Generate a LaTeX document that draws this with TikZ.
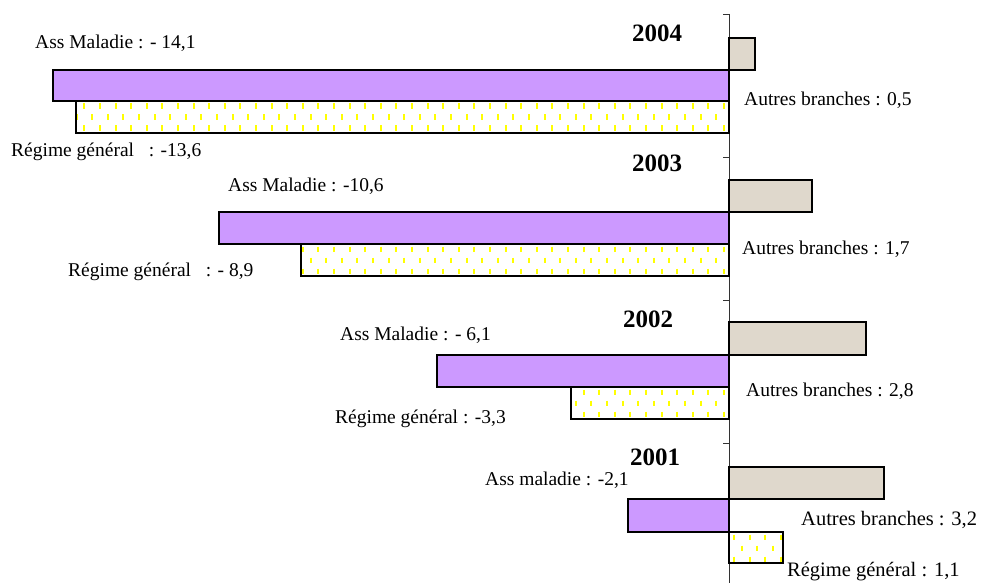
\documentclass[tikz,border=0pt]{standalone}
\usepackage{fontspec}
\setmainfont{Liberation Serif}
\definecolor{amPurple}{RGB}{204,153,255}
\definecolor{beige}{RGB}{223,216,204}
\definecolor{dashY}{RGB}{255,255,0}
\newcommand{\patbar}[4]{%
  \begin{scope}
    \clip (#1,#2) rectangle (#3,#4);
    \fill[white] (#1,#2) rectangle (#3,#4);
    \foreach \r in {0,1,2}{
      \foreach \c in {0,...,48}{
        \pgfmathsetmacro{\px}{729-5-\c*15.6-mod(\r,2)*7.8}
        \pgfmathsetmacro{\py}{#2+2.5+\r*11}
        \draw[dashY,line width=2pt] (\px,\py) -- (\px,\py+5.5);
      }
      \foreach \c in {0,...,20}{
        \pgfmathsetmacro{\px}{729+5+\c*15.6+mod(\r,2)*7.8}
        \pgfmathsetmacro{\py}{#2+2.5+\r*11}
        \draw[dashY,line width=2pt] (\px,\py) -- (\px,\py+5.5);
      }
    }
  \end{scope}
  \draw[bar] (#1,#2) rectangle (#3,#4);
}
\begin{document}
\begin{tikzpicture}[x=1pt,y=-1pt,
  bar/.style={draw=black,line width=1.4pt},
  lbl/.style={font=\fontsize{19.5}{22}\selectfont,inner sep=0pt,anchor=base west},
  lblb/.style={font=\fontsize{20.5}{24}\selectfont,inner sep=0pt,anchor=base west},
  yr/.style={font=\fontsize{25}{28}\selectfont\bfseries,inner sep=0pt,anchor=base}]
\useasboundingbox (0,0) rectangle (982,583);
% axis
\coordinate (axtop) at (729,14);
\coordinate (axbot) at (729,583);
\draw[line width=0.8pt,black!80] (axtop) -- (axbot);
\foreach \ty in {14,157,300,443,583}{
  \draw[line width=0.8pt,black!80] (723,\ty) -- (729,\ty);
}
% 2004
\fill[beige] (729,38) rectangle (755,70);
\draw[bar] (729,38) rectangle (755,70);
\fill[amPurple] (53,70) rectangle (729,101);
\draw[bar] (53,70) rectangle (729,101);
\patbar{76}{101}{729}{133}
% 2003
\fill[beige] (729,180) rectangle (812,212);
\draw[bar] (729,180) rectangle (812,212);
\fill[amPurple] (219,212) rectangle (729,244);
\draw[bar] (219,212) rectangle (729,244);
\patbar{301}{244}{729}{276}
% 2002
\fill[beige] (729,322) rectangle (866,355);
\draw[bar] (729,322) rectangle (866,355);
\fill[amPurple] (437,355) rectangle (729,387);
\draw[bar] (437,355) rectangle (729,387);
\patbar{571}{387}{729}{419}
% 2001
\fill[beige] (729,467) rectangle (884,499);
\draw[bar] (729,467) rectangle (884,499);
\fill[amPurple] (628,499) rectangle (729,532);
\draw[bar] (628,499) rectangle (729,532);
\patbar{729}{532}{783}{563}
% years
\node[yr] (y2004) at (657,42) {2004};
\node[yr] (y2003) at (657,171) {2003};
\node[yr] (y2002) at (648,327) {2002};
\node[yr] (y2001) at (655,465) {2001};
% labels
\node[lbl] (am04) at (35,49) {Ass Maladie : - 14,1};
\node[lbl] (rg04) at (11,157) {Régime général\hspace{0.5em} : -13,6};
\node[lbl] (ab04) at (744,106) {Autres branches : 0,5};
\node[lbl] (am03) at (228,191) {Ass Maladie : -10,6};
\node[lbl] (rg03) at (68,276) {Régime général\hspace{0.5em} : - 8,9};
\node[lbl] (ab03) at (742,254) {Autres branches : 1,7};
\node[lbl] (am02) at (340,340) {Ass Maladie : - 6,1};
\node[lbl] (rg02) at (335,423) {Régime général : -3,3};
\node[lbl] (ab02) at (746,396) {Autres branches : 2,8};
\node[lbl] (am01) at (485,485) {Ass maladie : -2,1};
\node[lblb] (ab01) at (801,525) {Autres branches : 3,2};
\node[lblb] (rg01) at (787,576) {Régime général : 1,1};
\end{tikzpicture}
\end{document}
